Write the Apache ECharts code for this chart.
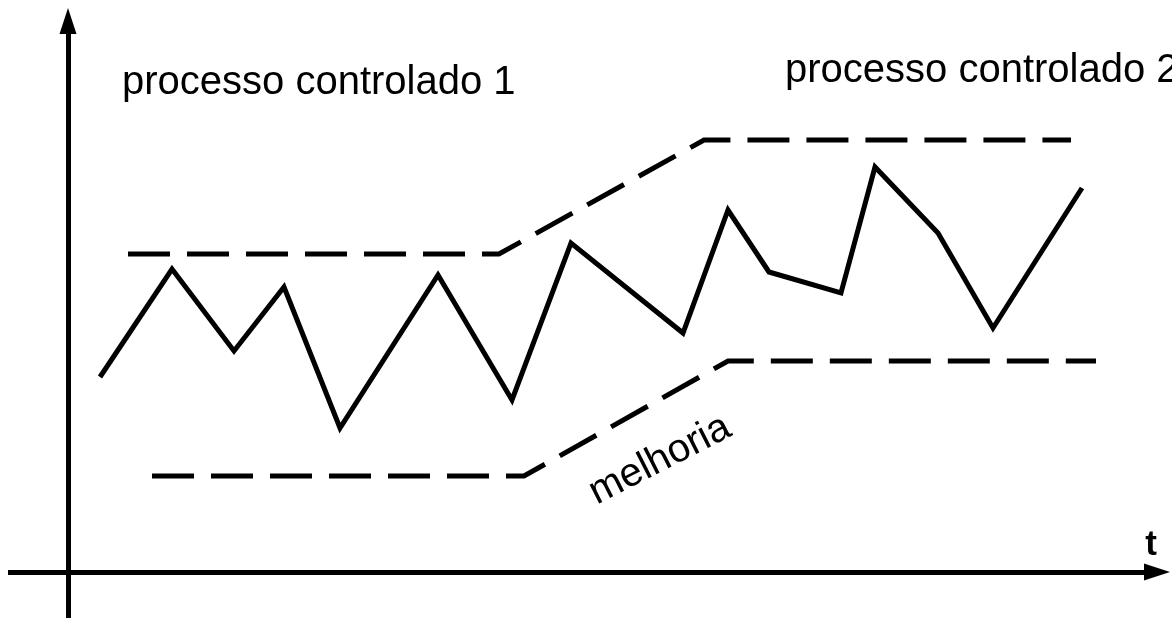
<!DOCTYPE html>
<html>
<head>
<meta charset="utf-8">
<script src="https://cdn.jsdelivr.net/npm/echarts@6/dist/echarts.min.js"></script>
<style>
html,body{margin:0;padding:0;background:#ffffff;}
#chart{width:1172px;height:618px;}
</style>
</head>
<body>
<div id="chart"></div>
<script>
// ---- data (time t, value) ----
const processT = [3.2, 10.4, 16.6, 21.6, 27.2, 37.0, 44.4, 50.3, 61.5, 66.0, 70.1, 77.3, 80.7, 87.0, 92.5, 101.4];
const processV = [39.0, 60.6, 44.2, 57.0, 28.8, 59.4, 34.4, 65.8, 47.8, 72.4, 60.0, 55.8, 81.0, 67.8, 48.8, 76.8];
const upperT = [6.0, 43.1, 63.6, 100.3];
const upperV = [63.6, 63.6, 86.4, 86.4];
const lowerT = [8.4, 45.6, 66.0, 102.8];
const lowerV = [19.2, 19.2, 42.2, 42.2];
const label1 = 'processo controlado 1';
const label2 = 'processo controlado 2';
const labelImprove = 'melhoria';
const axisName = 't';

const zip = (xs, ys) => xs.map((x, i) => [x, ys[i]]);
const FONT = '"Liberation Sans", Arial, Helvetica, sans-serif';

const chart = echarts.init(document.getElementById('chart'), null, {renderer: 'canvas'});
const axisCommon = {
  type: 'value',
  axisTick: {show: false},
  axisLabel: {show: false},
  splitLine: {show: false},
  axisLine: {
    show: true,
    onZero: true,
    symbol: ['none', 'triangle'],
    symbolSize: [17, 26],
    lineStyle: {color: '#000', width: 5, cap: 'butt'}
  }
};
const dashStyle = {color: '#000', width: 5, type: [42, 17], dashOffset: 0, cap: 'butt', join: 'miter', miterLimit: 10};

chart.setOption({
  animation: false,
  backgroundColor: '#ffffff',
  grid: {left: 8, right: 15, top: 21, bottom: 0, containLabel: false},
  xAxis: Object.assign({}, axisCommon, {min: -6, max: 108.9}),
  yAxis: Object.assign({}, axisCommon, {min: -9.2, max: 110.2}),
  series: [
    {
      type: 'line', data: zip(processT, processV), showSymbol: false, symbol: 'none',
      lineStyle: {color: '#000', width: 5, join: 'miter', miterLimit: 10, cap: 'butt'}, z: 3
    },
    {
      type: 'line', data: zip(upperT, upperV), showSymbol: false, symbol: 'none',
      lineStyle: dashStyle, z: 3
    },
    {
      type: 'line', data: zip(lowerT, lowerV), showSymbol: false, symbol: 'none',
      lineStyle: dashStyle, z: 3
    }
  ],
  graphic: [
    {type: 'text', left: 122, top: 63, style: {text: label1, font: '40px ' + FONT, fill: '#000'}},
    {type: 'text', left: 785, top: 51, style: {text: label2, font: '40px ' + FONT, fill: '#000'}},
    {type: 'text', x: 1151, y: 545, style: {text: axisName, font: 'bold 35px ' + FONT, fill: '#000', align: 'center', verticalAlign: 'middle'}},
    {type: 'text', x: 660, y: 460, rotation: 27 * Math.PI / 180, style: {text: labelImprove, font: '40px ' + FONT, fill: '#000', align: 'center', verticalAlign: 'middle'}}
  ]
});
</script>
</body>
</html>
